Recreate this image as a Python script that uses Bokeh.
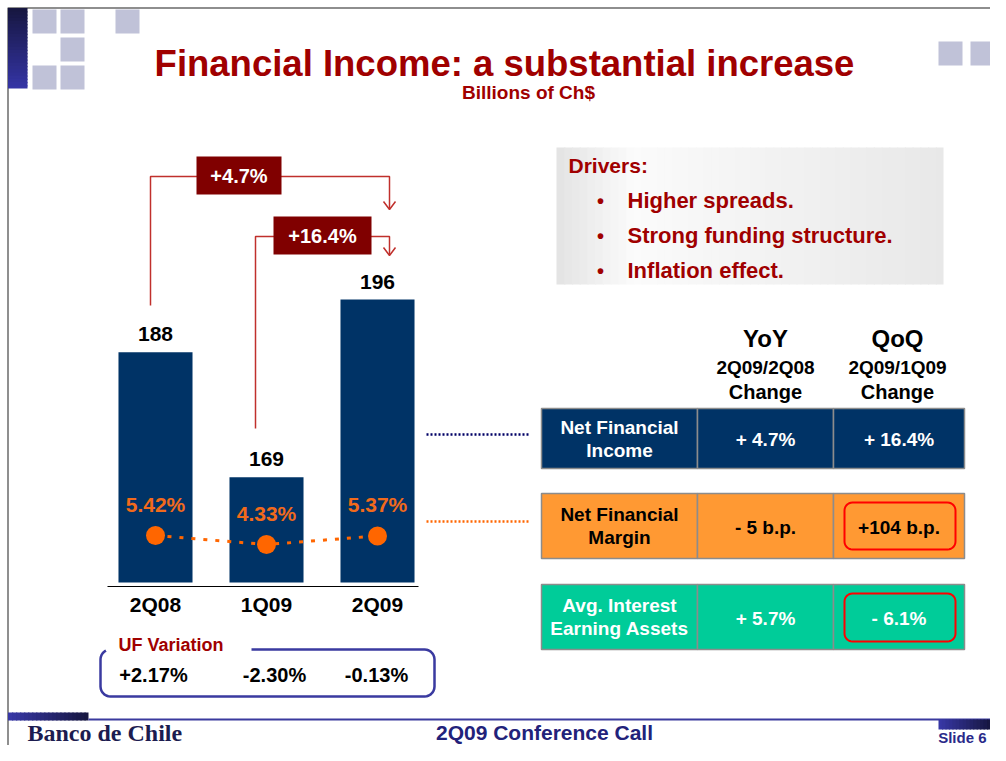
import numpy as np
from bokeh.plotting import figure
from bokeh.models import Range1d
from bokeh.core.properties import value
from bokeh.embed import file_html
from bokeh.resources import INLINE

# ---------------- data ----------------
quarters = ["2Q08", "1Q09", "2Q09"]
financial_income = [188, 169, 196]
margin = [5.42, 4.33, 5.37]
margin_labels = ["5.42%", "4.33%", "5.37%"]
uf_variation = ["+2.17%", "-2.30%", "-0.13%"]
growth_labels = ["+4.7%", "+16.4%"]
drivers = ["Higher spreads.", "Strong funding structure.", "Inflation effect."]
row_names = [("Net Financial", "Income"), ("Net Financial", "Margin"), ("Avg. Interest", "Earning Assets")]
yoy_change = ["+ 4.7%", "- 5 b.p.", "+ 5.7%"]
qoq_change = ["+ 16.4%", "+104 b.p.", "- 6.1%"]

FONT = value("Liberation Sans")
NAVY = "#003366"
ORANGE = "#ff6600"
DARKRED = "#a00000"

W, H = 990, 745
p = figure(width=W, height=H, output_backend="svg", toolbar_location=None,
           x_range=Range1d(0, W), y_range=Range1d(H, 0), min_border=0)
p.axis.visible = False
p.grid.visible = False
p.outline_line_color = None
p.background_fill_color = "white"
p.border_fill_color = "white"

# scales for the bar chart (truncated value axis, base 153 at the baseline)
idx = list(range(len(quarters)))
p.extra_x_ranges = {"cat": Range1d(-1.3964, 7.5225)}
p.extra_y_ranges = {"val": Range1d(128.23, 241.45), "nim": Range1d(-20.0, 70.19)}
BASE = 153


def txt(x, y, s, size, color="black", align="center", font=FONT, style="bold", **kw):
    p.text(x=[x], y=[y], text=[s], text_font=font, text_font_size=f"{size}px",
           text_color=color, text_align=align, text_baseline="middle",
           text_font_style=style, **kw)


def hex2rgb(h):
    h = h.lstrip("#")
    return np.array([int(h[i:i + 2], 16) for i in (0, 2, 4)], dtype=float)


def rgb2hex(c):
    return "#%02x%02x%02x" % tuple(int(round(v)) for v in c)


def gradient(x0, x1, y0, y1, stops, n=30, horizontal=True):
    pos = np.array([s[0] for s in stops])
    cols = np.array([hex2rgb(s[1]) for s in stops])
    ls, rs, ts, bs, cs = [], [], [], [], []
    for i in range(n):
        t = (i + 0.5) / n
        c = [np.interp(t, pos, cols[:, k]) for k in range(3)]
        last = (i == n - 1)
        if horizontal:
            ls.append(x0 + (x1 - x0) * i / n)
            rs.append(x0 + (x1 - x0) * (i + 1) / n + (0 if last else 1.2))
            ts.append(y0); bs.append(y1)
        else:
            ls.append(x0); rs.append(x1)
            ts.append(y0 + (y1 - y0) * i / n)
            bs.append(y0 + (y1 - y0) * (i + 1) / n + (0 if last else 1.2))
        cs.append(rgb2hex(c))
    p.quad(left=ls, right=rs, top=ts, bottom=bs, fill_color=cs, line_color=None)


def rounded(x0, y0, x1, y1, r, n=8):
    xs, ys = [], []
    corners = [(x1 - r, y0 + r, -np.pi / 2, 0), (x1 - r, y1 - r, 0, np.pi / 2),
               (x0 + r, y1 - r, np.pi / 2, np.pi), (x0 + r, y0 + r, np.pi, 1.5 * np.pi)]
    for cx, cy, a0, a1 in corners:
        a = np.linspace(a0, a1, n)
        xs += list(cx + r * np.cos(a)); ys += list(cy + r * np.sin(a))
    xs.append(xs[0]); ys.append(ys[0])
    return xs, ys


# ---------------- slide frame & decorations ----------------
p.line([7.5, 7.5, 990], [745, 7.5, 7.5], line_color="#6a6a6a", line_width=1.5)
gradient(7.5, 27, 7.5, 88, [(0, "#16163f"), (1, "#3535a6")], n=25, horizontal=False)
sq = "#c0c2d8"
p.quad(left=[32, 60, 115, 60, 32, 60, 938, 970], right=[56, 84, 139, 84, 56, 84, 962, 990],
       top=[9, 9, 9, 37, 65, 65, 41, 41], bottom=[33, 33, 33, 61, 89, 89, 65, 65],
       fill_color=sq, line_color=None)

# title
txt(504, 63, "Financial Income: a substantial increase", 36.5, DARKRED)
txt(528, 92, "Billions of Ch$", 19, DARKRED)

# drivers box
gradient(556, 943, 147, 284, [(0, "#e3e3e3"), (0.2, "#fbfbfb"), (0.35, "#f7f7f7"), (1, "#e8e8e8")], n=50)
txt(568, 165, "Drivers:", 21, DARKRED, align="left")
for k, d in enumerate(drivers):
    yy = 200 + 35 * k
    txt(600, yy, "\u2022", 20, DARKRED)
    txt(627, yy, d, 22, DARKRED, align="left")

# ---------------- bar chart ----------------
p.vbar(x=idx, width=0.667, bottom=BASE, top=financial_income, fill_color=NAVY,
       line_color=None, x_range_name="cat", y_range_name="val")
p.text(x=idx, y=financial_income, text=[str(v) for v in financial_income],
       x_range_name="cat", y_range_name="val", y_offset=-18, text_font=FONT,
       text_font_size="21px", text_font_style="bold", text_color="black",
       text_align="center", text_baseline="middle")
p.line([107, 418], [586, 586], line_color="black", line_width=1.2)
p.text(x=idx, y=[604] * 3, text=quarters, x_range_name="cat", text_font=FONT,
       text_font_size="21px", text_font_style="bold", text_color="black",
       text_align="center", text_baseline="middle")

# margin line
p.line(x=idx, y=margin, x_range_name="cat", y_range_name="nim", line_color=ORANGE,
       line_width=3, line_dash="4 8")
p.scatter(x=idx, y=margin, x_range_name="cat", y_range_name="nim", size=19,
          fill_color=ORANGE, line_color=None)
p.text(x=idx, y=margin, text=margin_labels, x_range_name="cat", y_range_name="nim",
       y_offset=-31, text_font=FONT, text_font_size="21px", text_font_style="bold",
       text_color="#f26a1b", text_align="center", text_baseline="middle")

# growth arrows
RED = "#c0302c"
p.line([150, 150, 389, 389], [305, 176, 176, 208], line_color=RED, line_width=1.5)
p.line([255, 255, 389, 389], [428, 236, 236, 254], line_color=RED, line_width=1.5)
p.multi_line([[383, 389, 395], [383, 389, 395]], [[201, 209, 201], [247, 255, 247]],
             line_color=RED, line_width=1.5)
p.quad(left=[196, 273], right=[281, 371], top=[156, 216], bottom=[194, 254],
       fill_color="#800000", line_color=None)
txt(238.5, 175, growth_labels[0], 20, "white")
txt(322, 235, growth_labels[1], 20, "white")

# UF variation box
r = 10
xs, ys = [251], [649]
def arc(cx, cy, a0, a1):
    a = np.linspace(a0, a1, 8)
    xs.extend(cx + r * np.cos(a)); ys.extend(cy + r * np.sin(a))
arc(434 - r, 649 + r, -np.pi / 2, 0)
arc(434 - r, 696 - r, 0, np.pi / 2)
arc(100 + r, 696 - r, np.pi / 2, np.pi)
arc(100 + r, 649 + r, np.pi, 1.35 * np.pi)
p.line(xs, ys, line_color="#3a3aa0", line_width=2.5)
txt(118, 644, "UF Variation", 18, DARKRED, align="left")
p.text(x=idx, y=[674] * 3, text=uf_variation, x_range_name="cat", x_offset=[-2, 8, -1],
       text_font=FONT, text_font_size="20px", text_font_style="bold", text_color="black",
       text_align="center", text_baseline="middle")

# dotted connectors
p.line([426, 530], [434, 434], line_color="#000066", line_width=2.5, line_dash="2 2")
p.line([426, 530], [521, 521], line_color=ORANGE, line_width=2.5, line_dash="2 2")

# ---------------- table ----------------
cols = [541, 697, 833, 964]
rows = [(408, 468), (493, 558), (584, 649)]
fills = [NAVY, "#ff9933", "#00cc99"]
tcols = ["white", "black", "white"]
for (t, b), f, tc, nm, yv, qv in zip(rows, fills, tcols, row_names, yoy_change, qoq_change):
    p.quad(left=cols[:3], right=cols[1:], top=[t] * 3, bottom=[b] * 3, fill_color=f,
           line_color="#8c8c8c", line_width=1.5)
    mid = (t + b) / 2
    txt(619, mid - 11.5, nm[0], 19, tc)
    txt(619, mid + 11.5, nm[1], 19, tc)
    txt(765, mid + 1, yv, 19, tc)
    txt(898.5, mid + 1, qv, 19, tc)

for (t, b) in [(502, 549), (593, 641)]:
    rx, ry = rounded(844, t, 955, b, 8)
    p.line(rx, ry, line_color="#ff0000", line_width=2)

txt(765, 338, "YoY", 24)
txt(897, 338, "QoQ", 24)
txt(765, 367, "2Q09/2Q08", 19)
txt(897, 367, "2Q09/1Q09", 19)
txt(765, 391, "Change", 20)
txt(897, 391, "Change", 20)

# ---------------- footer ----------------
gradient(7.5, 88, 712, 720, [(0, "#3838a8"), (1, "#16163f")], n=20)
p.line([88, 990], [719, 719], line_color="#3a3a9e", line_width=2)
gradient(938, 990, 719, 729, [(0, "#3838a8"), (1, "#16163f")], n=15)
txt(27, 732, "Banco de Chile", 24, "#1c1c50", align="left", font=value("Liberation Serif"))
txt(544, 732, "2Q09 Conference Call", 21, "#22227a")
txt(986, 737, "Slide 6", 15, "#2a2a8a", align="right")

open("out.html", "w").write(file_html(p, INLINE))
